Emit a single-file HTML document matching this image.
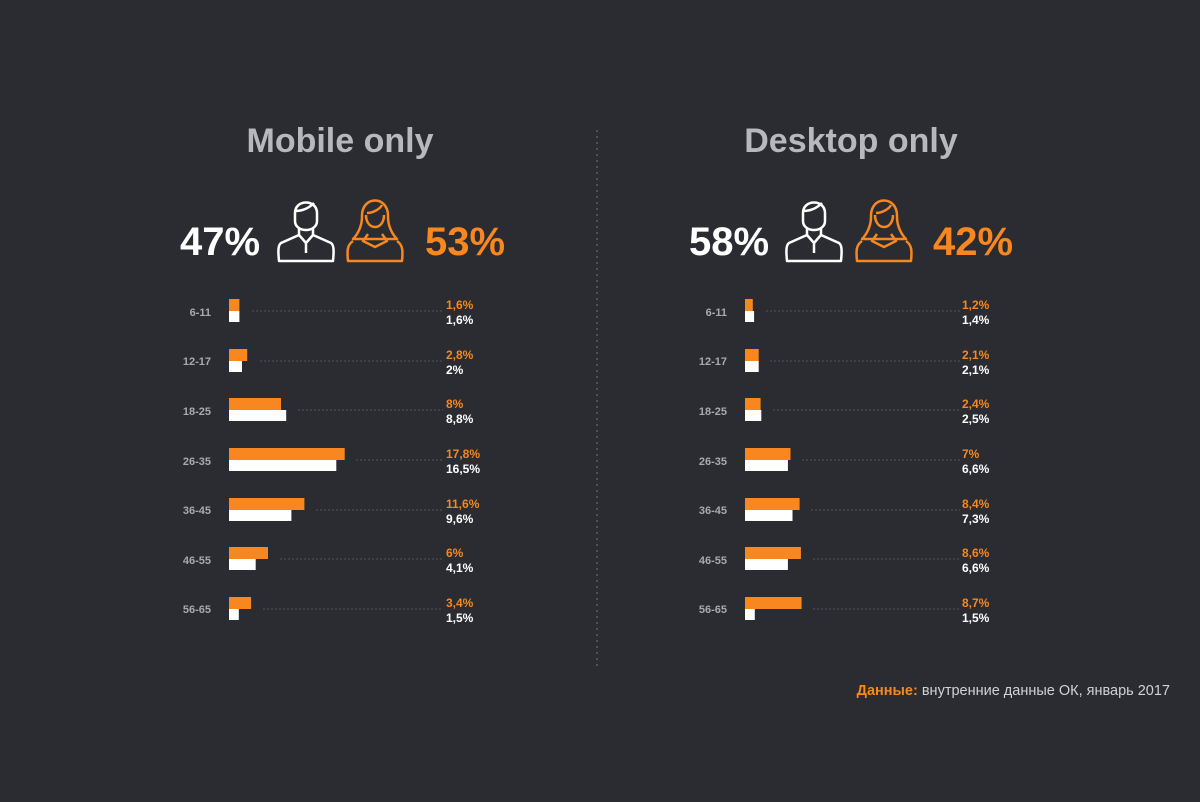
<!DOCTYPE html>
<html><head><meta charset="utf-8"><style>
html,body{margin:0;padding:0;background:#2a2c31;}
svg{display:block}
text{font-family:"Liberation Sans","DejaVu Sans",sans-serif;font-weight:bold}
</style></head><body>
<svg width="1200" height="802" viewBox="0 0 1200 802" xmlns="http://www.w3.org/2000/svg">
<rect width="1200" height="802" fill="#2a2c31"/>
<line x1="597" y1="130" x2="597" y2="670" stroke="#5a5d63" stroke-width="1.5" stroke-dasharray="2,4"/>
<text x="340" y="152" font-size="34" fill="#b6b8bc" text-anchor="middle">Mobile only</text>
<text x="851" y="152" font-size="34" fill="#b6b8bc" text-anchor="middle">Desktop only</text>

<text x="220" y="255" font-size="40" fill="#fff" text-anchor="middle">47%</text>
<text x="465" y="255" font-size="40" fill="#f7871e" text-anchor="middle">53%</text>
<text x="729" y="255" font-size="40" fill="#fff" text-anchor="middle">58%</text>
<text x="973" y="255" font-size="40" fill="#f7871e" text-anchor="middle">42%</text>

<defs>
<g id="male" fill="none" stroke-width="2.5" stroke-linejoin="round">
<path d="M-11,-18 C-11,-32 11,-32 11,-18 L11,-10 C11,2 -11,2 -11,-10 Z"/>
<path d="M-11,-20 C-2,-20 4,-24 8,-28"/>
<path d="M-7,-2 L-7,4 L-25,12 C-28,14 -28,20 -27,30 L27,30 C28,20 28,14 25,12 L7,4 L7,-2"/>
<path d="M-7,4 L0,12 L7,4 M0,12 L0,22"/>
</g>
<g id="female" fill="none" stroke-width="2.5" stroke-linejoin="round">
<path d="M-13,-14 C-14,-36 14,-36 13,-14 C13,-4 18,4 22,8 L-22,8 C-18,4 -13,-4 -13,-14 Z"/>
<path d="M-8,-18 C-2,-18 5,-22 7,-26 M-9,-16 C-9,0 9,0 9,-16"/>
<path d="M-22,10 C-28,14 -28,20 -27,30 L27,30 C28,20 28,14 22,10"/>
<path d="M-7,3 L-12,10 L0,16 L12,10 L7,3"/>
</g>
</defs>
<use href="#male" x="306" y="231" stroke="#fff"/>
<use href="#female" x="375" y="231" stroke="#f7871e"/>
<use href="#male" x="814" y="231" stroke="#fff"/>
<use href="#female" x="884" y="231" stroke="#f7871e"/>

<g font-size="11" fill="#a7a9ad" text-anchor="end">
<text x="211" y="316">6-11</text><text x="211" y="365">12-17</text><text x="211" y="415">18-25</text><text x="211" y="465">26-35</text><text x="211" y="514">36-45</text><text x="211" y="564">46-55</text><text x="211" y="613">56-65</text>
<text x="727" y="316">6-11</text><text x="727" y="365">12-17</text><text x="727" y="415">18-25</text><text x="727" y="465">26-35</text><text x="727" y="514">36-45</text><text x="727" y="564">46-55</text><text x="727" y="613">56-65</text>
</g>

<g stroke="#4a4d53" stroke-width="1.2" stroke-dasharray="2,2">
<line x1="252" y1="311" x2="443" y2="311"/><line x1="260" y1="361" x2="443" y2="361"/><line x1="298" y1="410" x2="443" y2="410"/><line x1="356" y1="460" x2="443" y2="460"/><line x1="316" y1="510" x2="443" y2="510"/><line x1="280" y1="559" x2="443" y2="559"/><line x1="263" y1="609" x2="443" y2="609"/>
<line x1="766" y1="311" x2="960" y2="311"/><line x1="770" y1="361" x2="960" y2="361"/><line x1="773" y1="410" x2="960" y2="410"/><line x1="802" y1="460" x2="960" y2="460"/><line x1="811" y1="510" x2="960" y2="510"/><line x1="813" y1="559" x2="960" y2="559"/><line x1="813" y1="609" x2="960" y2="609"/>
</g>

<g fill="#f7871e">
<rect x="229" y="299" width="10.4" height="12"/><rect x="229" y="349" width="18.2" height="12"/><rect x="229" y="398" width="52" height="12"/><rect x="229" y="448" width="115.7" height="12"/><rect x="229" y="498" width="75.4" height="12"/><rect x="229" y="547" width="39" height="12"/><rect x="229" y="597" width="22.1" height="12"/>
<rect x="745" y="299" width="7.8" height="12"/><rect x="745" y="349" width="13.7" height="12"/><rect x="745" y="398" width="15.6" height="12"/><rect x="745" y="448" width="45.5" height="12"/><rect x="745" y="498" width="54.6" height="12"/><rect x="745" y="547" width="55.9" height="12"/><rect x="745" y="597" width="56.6" height="12"/>
</g>
<g fill="#fff">
<rect x="229" y="311" width="10.4" height="11"/><rect x="229" y="361" width="13" height="11"/><rect x="229" y="410" width="57.2" height="11"/><rect x="229" y="460" width="107.3" height="11"/><rect x="229" y="510" width="62.4" height="11"/><rect x="229" y="559" width="26.7" height="11"/><rect x="229" y="609" width="9.8" height="11"/>
<rect x="745" y="311" width="9.1" height="11"/><rect x="745" y="361" width="13.7" height="11"/><rect x="745" y="410" width="16.3" height="11"/><rect x="745" y="460" width="42.9" height="11"/><rect x="745" y="510" width="47.5" height="11"/><rect x="745" y="559" width="42.9" height="11"/><rect x="745" y="609" width="9.8" height="11"/>
</g>

<g font-size="12" fill="#f7871e">
<text x="446" y="309">1,6%</text><text x="446" y="359">2,8%</text><text x="446" y="408">8%</text><text x="446" y="458">17,8%</text><text x="446" y="508">11,6%</text><text x="446" y="557">6%</text><text x="446" y="607">3,4%</text>
<text x="962" y="309">1,2%</text><text x="962" y="359">2,1%</text><text x="962" y="408">2,4%</text><text x="962" y="458">7%</text><text x="962" y="508">8,4%</text><text x="962" y="557">8,6%</text><text x="962" y="607">8,7%</text>
</g>
<g font-size="12" fill="#fff">
<text x="446" y="324">1,6%</text><text x="446" y="374">2%</text><text x="446" y="423">8,8%</text><text x="446" y="473">16,5%</text><text x="446" y="523">9,6%</text><text x="446" y="572">4,1%</text><text x="446" y="622">1,5%</text>
<text x="962" y="324">1,4%</text><text x="962" y="374">2,1%</text><text x="962" y="423">2,5%</text><text x="962" y="473">6,6%</text><text x="962" y="523">7,3%</text><text x="962" y="572">6,6%</text><text x="962" y="622">1,5%</text>
</g>

<text x="1170" y="695" font-size="14.5" text-anchor="end" fill="#d0d2d5" style="font-weight:normal"><tspan fill="#f7871e" style="font-weight:bold">Данные:</tspan> внутренние данные ОК, январь 2017</text>
</svg>
</body></html>
